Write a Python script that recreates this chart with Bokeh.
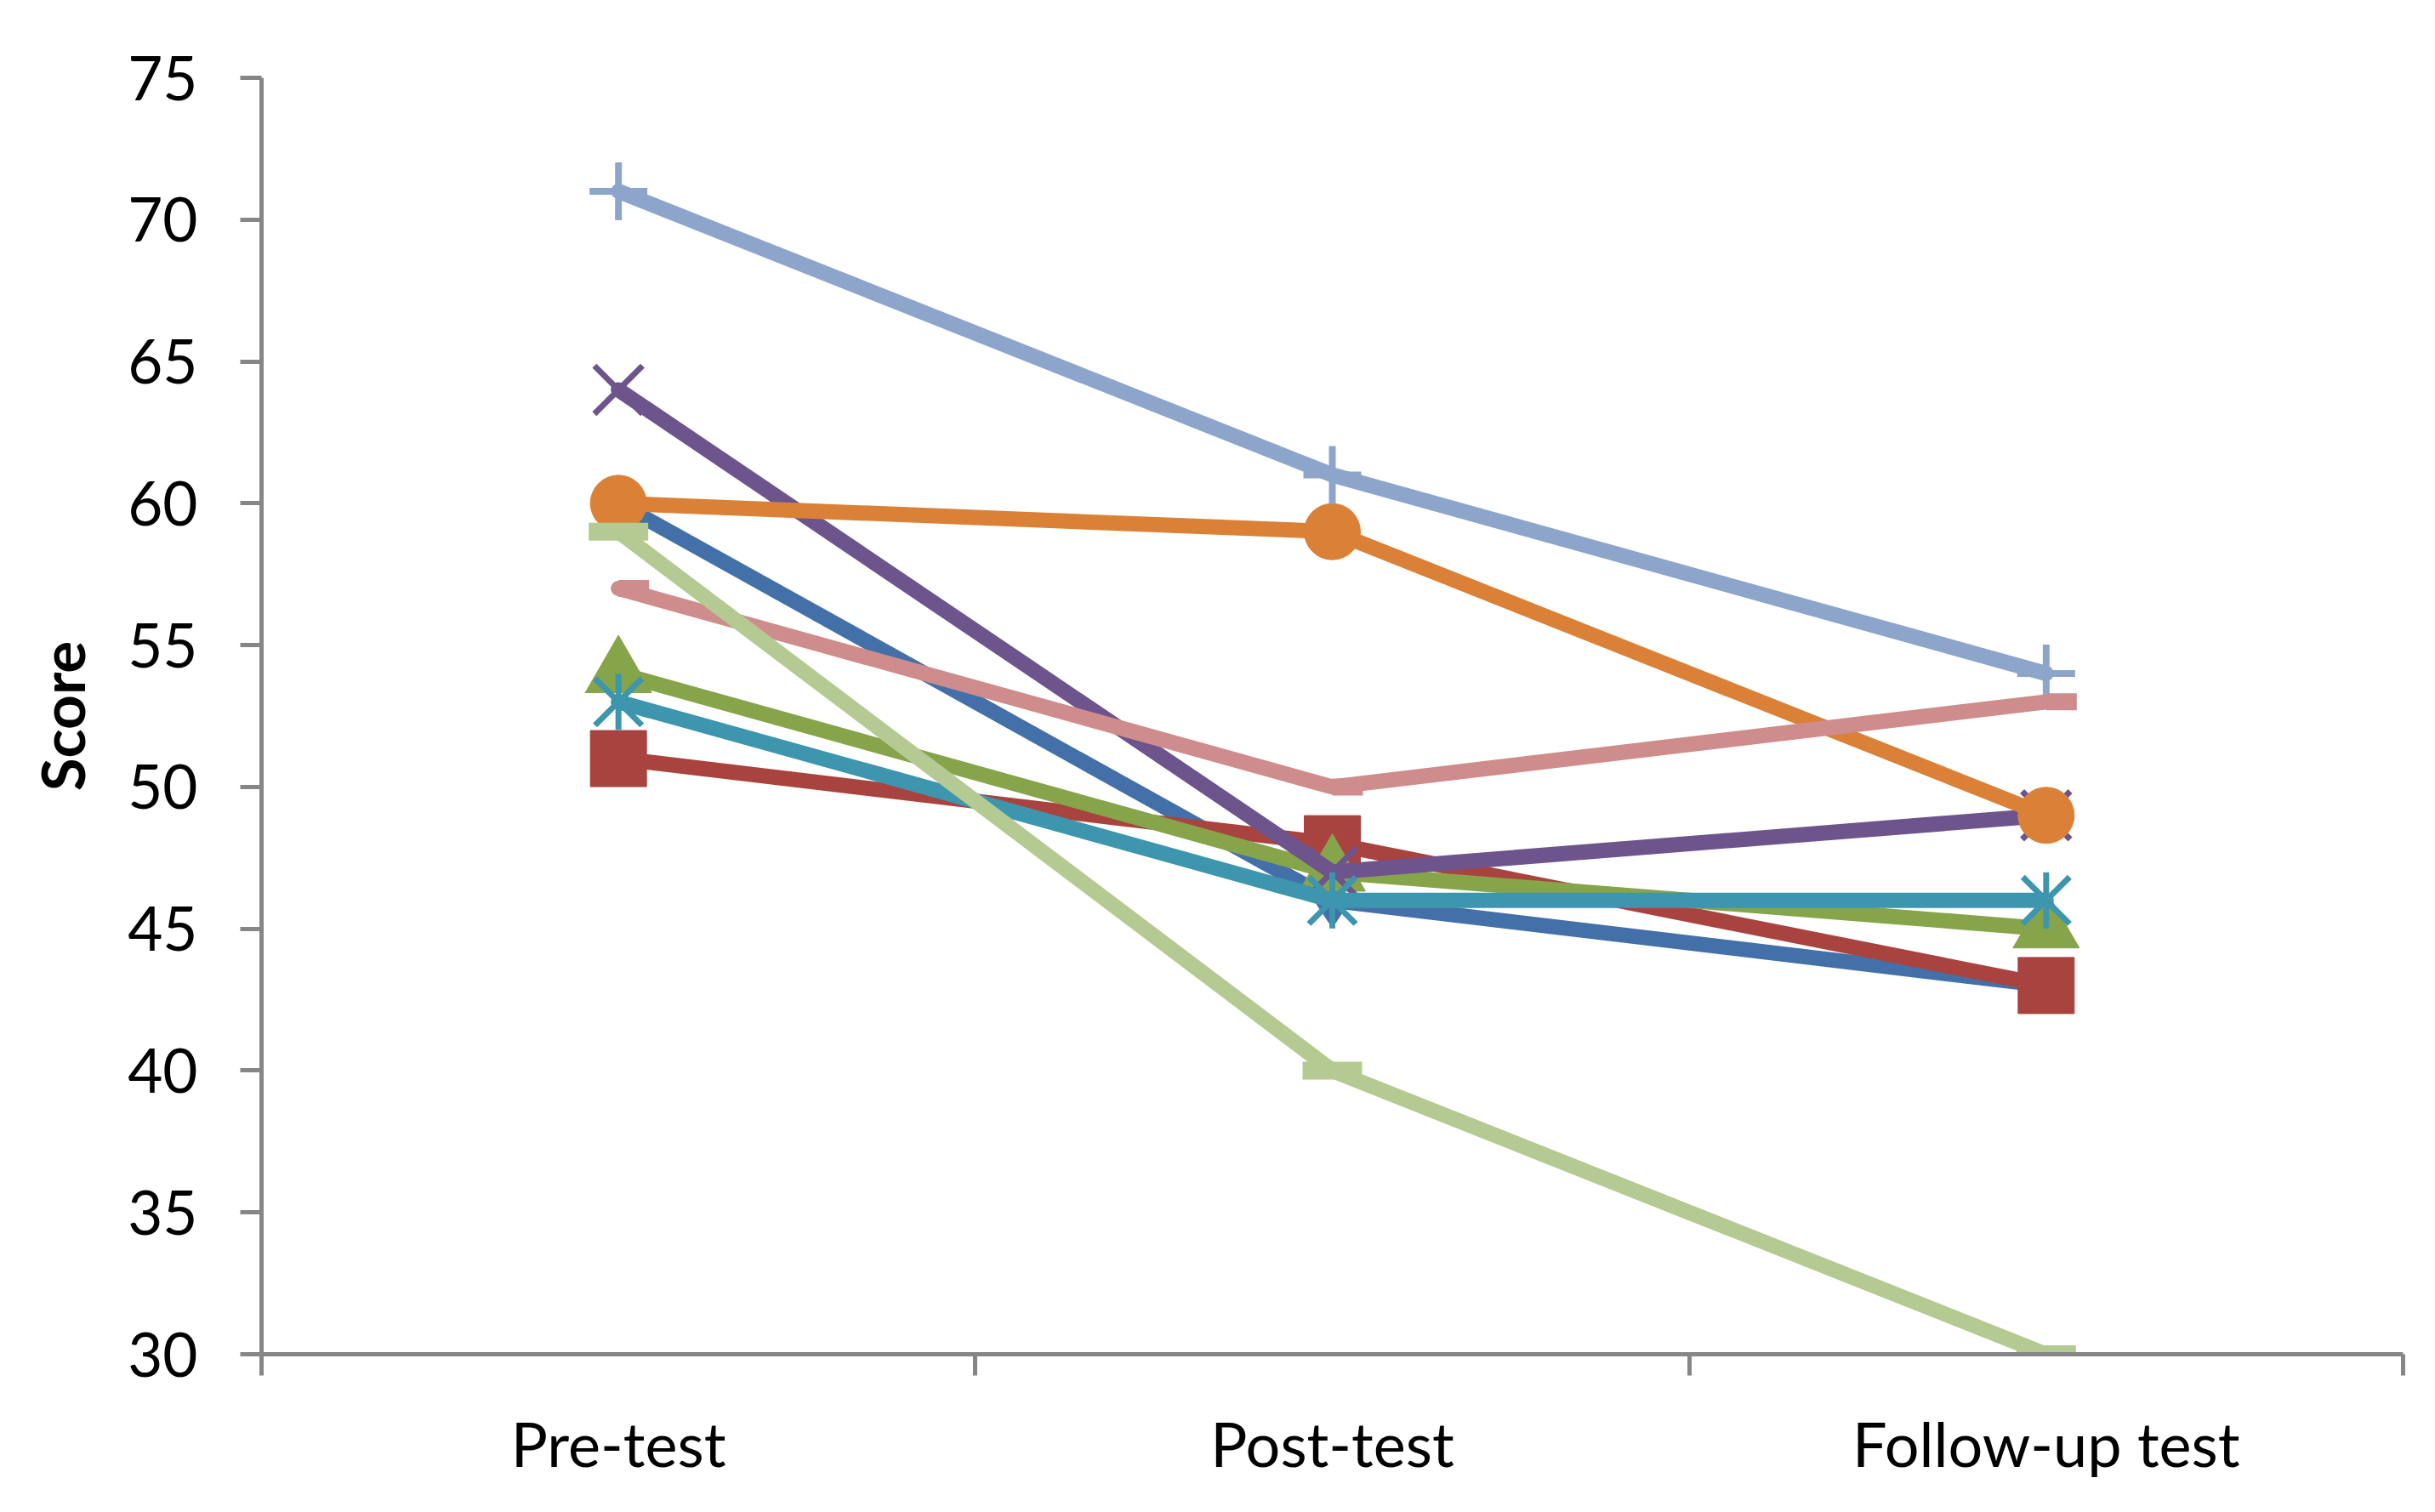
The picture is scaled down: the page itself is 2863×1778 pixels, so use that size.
from bokeh.plotting import figure
from bokeh.models import Range1d, FixedTicker
from bokeh.embed import file_html
from bokeh.resources import INLINE
import math

categories = ["Pre-test", "Post-test", "Follow-up test"]
y_ticks = [30, 35, 40, 45, 50, 55, 60, 65, 70, 75]

s1_blue = [60, 46, 43]
s2_red = [51, 48, 43]
s3_green = [54, 47, 45]
s4_purple = [64, 47, 49]
s5_teal = [53, 46, 46]
s6_orange = [60, 59, 49]
s7_lightblue = [71, 61, 54]
s8_pink = [57, 50, 53]
s9_lightgreen = [59, 40, 30]

FONT = "Lato"
AXIS_GRAY = "#868686"

xs = [i + 0.5 for i in range(len(categories))]
bounds = [float(i) for i in range(len(categories) + 1)]

p = figure(width=2847, height=1762, output_backend="svg", toolbar_location=None,
           x_range=Range1d(0, len(categories)), y_range=Range1d(y_ticks[0], y_ticks[-1]),
           min_border_left=307, min_border_right=22, min_border_top=91, min_border_bottom=170)
p.outline_line_color = None
p.xgrid.visible = False
p.ygrid.visible = False
p.background_fill_color = "white"
p.border_fill_color = "white"

# x axis
xa = p.xaxis[0]
xa.ticker = FixedTicker(ticks=xs, minor_ticks=bounds)
xa.major_label_overrides = {x: c for x, c in zip(xs, categories)}
xa.major_tick_out = 0
xa.major_tick_in = 0
xa.major_tick_line_color = None
xa.minor_tick_out = 25
xa.minor_tick_in = 0
xa.minor_tick_line_color = AXIS_GRAY
xa.minor_tick_line_width = 5
xa.axis_line_color = AXIS_GRAY
xa.axis_line_width = 5
xa.major_label_text_font = FONT
xa.major_label_text_font_size = "72px"
xa.major_label_text_color = "black"
xa.major_label_standoff = 36

# y axis
ya = p.yaxis[0]
ya.ticker = FixedTicker(ticks=y_ticks, minor_ticks=[])
ya.major_tick_out = 25
ya.major_tick_in = 0
ya.major_tick_line_color = AXIS_GRAY
ya.major_tick_line_width = 5
ya.axis_line_color = AXIS_GRAY
ya.axis_line_width = 5
ya.major_label_text_font = FONT
ya.major_label_text_font_size = "71px"
ya.major_label_text_color = "black"
ya.major_label_standoff = 50
ya.axis_label = "Score"
ya.axis_label_text_font = FONT
ya.axis_label_text_font_size = "71px"
ya.axis_label_text_font_style = "bold"
ya.axis_label_text_color = "black"
ya.axis_label_standoff = 32

LW = 18

def add_line(vals, color):
    p.line(xs, vals, line_color=color, line_width=LW, line_join="round", line_cap="round")

# 1 blue, diamonds
add_line(s1_blue, "#4370A8")
p.scatter(xs, s1_blue, marker="diamond", size=64, fill_color="#4370A8", line_color="#4370A8")
# 2 red, squares
add_line(s2_red, "#A9433F")
p.scatter(xs, s2_red, marker="square", size=66, fill_color="#A9433F", line_color="#A9433F", line_width=1)
# 3 green, triangles
add_line(s3_green, "#86A44A")
p.scatter(xs, s3_green, marker="triangle", size=78, fill_color="#86A44A", line_color="#86A44A")
# 4 purple, x
add_line(s4_purple, "#6E548D")
p.scatter(xs, s4_purple, marker="x", size=80, line_color="#6E548D", line_width=7)
# 5 teal, asterisk (x + vertical bar)
add_line(s5_teal, "#3D96AE")
p.scatter(xs, s5_teal, marker="x", size=78, line_color="#3D96AE", line_width=7)
p.scatter(xs, s5_teal, marker="dash", size=66, angle=math.pi / 2, line_color="#3D96AE", line_width=7)
# 6 orange, circles
add_line(s6_orange, "#DA8137")
p.scatter(xs, s6_orange, marker="circle", size=66, fill_color="#DA8137", line_color="#DA8137")
# 7 light blue, plus
add_line(s7_lightblue, "#8EA5CB")
p.scatter(xs, s7_lightblue, marker="cross", size=68, line_color="#8EA5CB", line_width=8)
# 8 pink, short dash (right half)
add_line(s8_pink, "#CE8D8C")
px_per_unit = 2518 / len(categories)
p.rect([x + 18 / px_per_unit for x in xs], s8_pink, width=36, height=20,
       width_units="screen", height_units="screen", fill_color="#CE8D8C", line_color=None)
# 9 light green, long dash
add_line(s9_lightgreen, "#B5CA92")
p.rect(xs, s9_lightgreen, width=70, height=21, width_units="screen", height_units="screen",
       fill_color="#B5CA92", line_color=None)

open("out.html", "w").write(file_html(p, INLINE))
